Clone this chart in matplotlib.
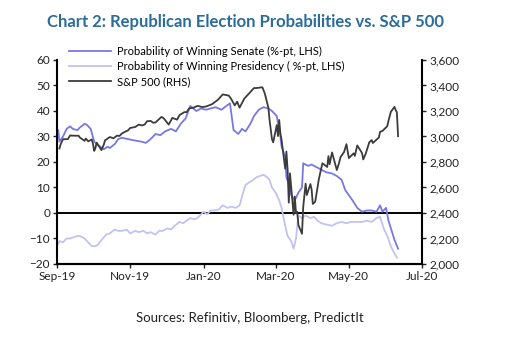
import pandas as pd
import matplotlib
matplotlib.use("Agg")
import matplotlib.pyplot as plt
import matplotlib.dates as mdates
from matplotlib.ticker import FuncFormatter

plt.rcParams['font.family'] = ['Lato', 'DejaVu Sans']

# Probability of winning Senate (%-pt, LHS)
senate_dates = [
    "2019-09-02", "2019-09-03", "2019-09-06", "2019-09-09", "2019-09-12", "2019-09-14",
    "2019-09-18", "2019-09-20", "2019-09-24", "2019-09-26", "2019-09-29", "2019-10-02",
    "2019-10-04", "2019-10-07", "2019-10-10", "2019-10-13", "2019-10-15", "2019-10-19",
    "2019-10-22", "2019-10-25", "2019-10-30", "2019-11-04", "2019-11-10", "2019-11-14",
    "2019-11-18", "2019-11-22", "2019-11-26", "2019-11-30", "2019-12-05", "2019-12-09",
    "2019-12-13", "2019-12-17", "2019-12-21", "2019-12-26", "2019-12-30", "2020-01-03",
    "2020-01-07", "2020-01-11", "2020-01-16", "2020-01-20", "2020-01-23", "2020-01-26",
    "2020-01-30", "2020-02-02", "2020-02-05", "2020-02-09", "2020-02-12", "2020-02-16",
    "2020-02-20", "2020-02-24", "2020-02-27", "2020-03-02", "2020-03-05", "2020-03-06",
    "2020-03-09", "2020-03-10", "2020-03-13", "2020-03-14", "2020-03-17", "2020-03-20",
    "2020-03-23", "2020-03-24", "2020-03-28", "2020-03-31", "2020-04-04", "2020-04-08",
    "2020-04-12", "2020-04-17", "2020-04-21", "2020-04-25", "2020-04-28", "2020-05-01",
    "2020-05-04", "2020-05-08", "2020-05-12", "2020-05-16", "2020-05-20", "2020-05-24",
    "2020-05-27", "2020-05-29", "2020-06-01", "2020-06-03", "2020-06-05", "2020-06-08",
    "2020-06-11",
]
senate = [
    32.5, 28, 30, 33, 34, 33,
    32.5, 33.5, 35, 34.5, 33, 28,
    27, 26, 25, 26, 25.5, 27,
    29, 29.5, 29, 28.5, 28, 27.5,
    29, 31, 30.5, 32, 33, 32,
    35, 37, 42, 40, 41, 40.5,
    41, 41.5, 40.5, 42, 43, 32.5,
    31, 33, 32, 35, 38, 40.5,
    41.5, 41, 40, 38, 30, 26,
    22, 14, 10, 7, 5, 8,
    10, 19.5, 18.5, 19, 18, 17,
    16, 15.5, 14.5, 13, 9, 7,
    5, 2, 0.5, 1, 1, 0.5,
    3, 0.5, 2, -3, -6, -10.5,
    -14,
]

# Probability of winning Presidency (%-pt, LHS)
pres_dates = [
    "2019-09-02", "2019-09-03", "2019-09-06", "2019-09-09", "2019-09-12", "2019-09-15",
    "2019-09-18", "2019-09-20", "2019-09-24", "2019-09-27", "2019-09-30", "2019-10-03",
    "2019-10-05", "2019-10-09", "2019-10-12", "2019-10-15", "2019-10-19", "2019-10-22",
    "2019-10-25", "2019-10-29", "2019-11-01", "2019-11-05", "2019-11-08", "2019-11-12",
    "2019-11-15", "2019-11-18", "2019-11-22", "2019-11-25", "2019-11-28", "2019-12-02",
    "2019-12-05", "2019-12-08", "2019-12-12", "2019-12-15", "2019-12-18", "2019-12-21",
    "2019-12-25", "2019-12-28", "2020-01-01", "2020-01-04", "2020-01-07", "2020-01-11",
    "2020-01-14", "2020-01-17", "2020-01-21", "2020-01-24", "2020-01-28", "2020-01-31",
    "2020-02-03", "2020-02-05", "2020-02-08", "2020-02-10", "2020-02-14", "2020-02-17",
    "2020-02-20", "2020-02-23", "2020-02-25", "2020-02-27", "2020-03-01", "2020-03-04",
    "2020-03-06", "2020-03-09", "2020-03-11", "2020-03-14", "2020-03-16", "2020-03-18",
    "2020-03-20", "2020-03-23", "2020-03-26", "2020-03-30", "2020-04-02", "2020-04-05",
    "2020-04-08", "2020-04-12", "2020-04-17", "2020-04-21", "2020-04-25", "2020-04-29",
    "2020-05-03", "2020-05-08", "2020-05-12", "2020-05-16", "2020-05-20", "2020-05-24",
    "2020-05-27", "2020-05-30", "2020-06-02", "2020-06-05", "2020-06-07", "2020-06-10",
]
pres = [
    -12, -11, -11.5, -10, -10, -9.5,
    -9, -9, -10, -11.5, -13, -13,
    -12.5, -10, -8.5, -8, -6.5, -7,
    -7, -6.5, -8, -7, -7.5, -7,
    -8, -7.5, -8.5, -7, -7, -6,
    -6.5, -5, -3.5, -4, -3, -2,
    -2.5, -1.5, 0.5, -0.5, 1, 1,
    1.5, 3, 2, 2.5, 2, 3,
    8, 11, 12, 12.5, 14, 14.5,
    15, 14, 13, 10, 8, 5,
    2, -5, -9, -11, -14, -10,
    -1, -2, -1, -2, -1.5, -3,
    -4, -4.5, -5, -4, -3.5, -4,
    -3.5, -3.5, -3.5, -3, -3.5, -2,
    -1.5, -6, -9, -13, -15, -17.5,
]

# S&P 500 (RHS)
spx_dates = [
    "2019-09-03", "2019-09-04", "2019-09-06", "2019-09-10", "2019-09-12", "2019-09-13",
    "2019-09-17", "2019-09-19", "2019-09-20", "2019-09-24", "2019-09-25", "2019-09-27",
    "2019-09-30", "2019-10-01", "2019-10-02", "2019-10-03", "2019-10-04", "2019-10-08",
    "2019-10-10", "2019-10-11", "2019-10-15", "2019-10-18", "2019-10-21", "2019-10-23",
    "2019-10-25", "2019-10-28", "2019-10-30", "2019-11-01", "2019-11-05", "2019-11-08",
    "2019-11-11", "2019-11-13", "2019-11-15", "2019-11-18", "2019-11-20", "2019-11-22",
    "2019-11-27", "2019-11-29", "2019-12-03", "2019-12-06", "2019-12-10", "2019-12-12",
    "2019-12-16", "2019-12-18", "2019-12-20", "2019-12-23", "2019-12-27", "2019-12-31",
    "2020-01-03", "2020-01-08", "2020-01-13", "2020-01-17", "2020-01-22", "2020-01-24",
    "2020-01-27", "2020-01-29", "2020-01-31", "2020-02-04", "2020-02-07", "2020-02-12",
    "2020-02-14", "2020-02-19", "2020-02-21", "2020-02-24", "2020-02-25", "2020-02-27",
    "2020-02-28", "2020-03-02", "2020-03-03", "2020-03-04", "2020-03-05", "2020-03-06",
    "2020-03-09", "2020-03-10", "2020-03-11", "2020-03-12", "2020-03-13", "2020-03-16",
    "2020-03-17", "2020-03-18", "2020-03-19", "2020-03-20", "2020-03-23", "2020-03-24",
    "2020-03-26", "2020-03-27", "2020-03-30", "2020-03-31", "2020-04-01", "2020-04-03",
    "2020-04-06", "2020-04-08", "2020-04-09", "2020-04-13", "2020-04-14", "2020-04-15",
    "2020-04-17", "2020-04-21", "2020-04-23", "2020-04-24", "2020-04-27", "2020-04-29",
    "2020-05-01", "2020-05-05", "2020-05-06", "2020-05-08", "2020-05-12", "2020-05-13",
    "2020-05-15", "2020-05-18", "2020-05-20", "2020-05-21", "2020-05-26", "2020-05-27",
    "2020-05-29", "2020-06-02", "2020-06-03", "2020-06-05", "2020-06-08", "2020-06-09",
    "2020-06-10", "2020-06-11",
]
spx = [
    2906, 2938, 2979, 2979, 3009, 3007,
    3006, 3006, 2992, 2966, 2984, 2962,
    2977, 2940, 2887, 2910, 2952, 2893,
    2938, 2970, 2996, 2986, 3007, 3004,
    3023, 3039, 3047, 3067, 3074, 3093,
    3087, 3094, 3120, 3122, 3108, 3110,
    3154, 3141, 3093, 3146, 3132, 3168,
    3191, 3191, 3221, 3224, 3240, 3231,
    3235, 3253, 3288, 3330, 3321, 3295,
    3244, 3273, 3226, 3298, 3328, 3380,
    3380, 3386, 3338, 3226, 3128, 2979,
    2954, 3090, 3003, 3130, 3024, 2972,
    2747, 2882, 2741, 2481, 2711, 2386,
    2529, 2398, 2409, 2305, 2237, 2447,
    2630, 2541, 2627, 2585, 2471, 2489,
    2664, 2750, 2790, 2761, 2846, 2783,
    2875, 2737, 2797, 2837, 2878, 2940,
    2831, 2868, 2848, 2930, 2870, 2820,
    2864, 2954, 2972, 2949, 2992, 3036,
    3044, 3081, 3123, 3194, 3232, 3208,
    3190, 3002,
]

fig = plt.figure(figsize=(5.25, 3.46), dpi=100)
ax = fig.add_axes([0.1086, 0.237, 0.6954, 0.5896])
ax2 = ax.twinx()

l1, = ax.plot(pd.to_datetime(senate_dates), senate, color='#7878e4', lw=1.3,
              label='Probability of Winning Senate (%-pt, LHS)')
l2, = ax.plot(pd.to_datetime(pres_dates), pres, color='#c2c2f2', lw=1.3,
              label='Probability of Winning Presidency ( %-pt, LHS)')
l3, = ax2.plot(pd.to_datetime(spx_dates), spx, color='#3c3c3c', lw=1.3,
               label='S&P 500 (RHS)')
ax.axhline(0, color='black', lw=1.4, zorder=1)

ax.set_ylim(-20, 60)
ax.set_yticks(range(-20, 61, 10))
ax2.set_ylim(2000, 3600)
ax2.set_yticks(range(2000, 3601, 200))
ax2.yaxis.set_major_formatter(FuncFormatter(lambda v, p: f"{int(v):,}"))

ax.set_xlim(pd.Timestamp('2019-09-01'), pd.Timestamp('2020-07-01'))
ax.xaxis.set_major_locator(mdates.MonthLocator(bymonth=[1, 3, 5, 7, 9, 11]))
ax.xaxis.set_major_formatter(mdates.DateFormatter('%b-%y'))

for a in (ax, ax2):
    a.spines['top'].set_visible(False)
    for s in ('left', 'right', 'bottom'):
        a.spines[s].set_linewidth(1.5)
    a.tick_params(length=3, width=1, labelsize=8.5, colors='#222222', pad=2)
ax.spines['right'].set_visible(False)
ax2.spines['left'].set_visible(False)

ax.legend(handles=[l1, l2, l3], loc='upper left', bbox_to_anchor=(0.02, 1.09),
          frameon=False, fontsize=8, handlelength=3.8, handletextpad=0.5,
          labelspacing=0.35, borderaxespad=0)

fig.text(0.467, 0.935, 'Chart 2: Republican Election Probabilities vs. S&P 500',
         ha='center', va='center', fontsize=12, fontweight='bold', color='#2c6c9a')
fig.text(0.476, 0.08, 'Sources: Refinitiv, Bloomberg, PredictIt',
         ha='center', va='center', fontsize=9.5, color='#222222')

fig.savefig('out.png', dpi=100)
